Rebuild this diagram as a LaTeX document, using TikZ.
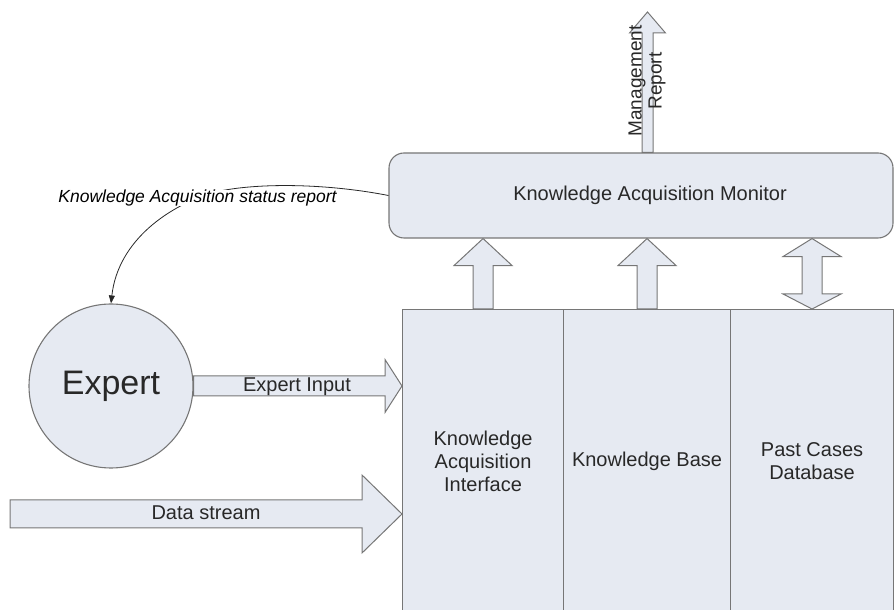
\documentclass[tikz,border=0pt]{standalone}
\usepackage{fontspec}
\setmainfont{Liberation Sans}
\usetikzlibrary{arrows.meta,calc}

\definecolor{boxfill}{RGB}{230,234,242}
\definecolor{boxline}{RGB}{118,118,118}
\definecolor{inkgray}{RGB}{40,40,40}

% hollow block arrows, built on named points
% right: from #1 to the x of #2; shaft half #3, head half #4, head length #5
\newcommand{\fatright}[5]{%
  \draw[fatarrow] let \p1=(#1), \p2=(#2) in
    (\x1,\y1+#3) -- (\x2-#5,\y1+#3) -- (\x2-#5,\y1+#4) -- (\x2,\y1)
    -- (\x2-#5,\y1-#4) -- (\x2-#5,\y1-#3) -- (\x1,\y1-#3) -- cycle;}
% up: from #1 to the y of #2
\newcommand{\fatup}[5]{%
  \draw[fatarrow] let \p1=(#1), \p2=(#2) in
    (\x1-#3,\y1) -- (\x1-#3,\y2-#5) -- (\x1-#4,\y2-#5) -- (\x1,\y2)
    -- (\x1+#4,\y2-#5) -- (\x1+#3,\y2-#5) -- (\x1+#3,\y1) -- cycle;}
% both ways: top head length #5, bottom head length #6
\newcommand{\fatboth}[6]{%
  \draw[fatarrow] let \p1=(#1), \p2=(#2) in
    (\x1,\y1) -- (\x1-#4,\y1+#6) -- (\x1-#3,\y1+#6) -- (\x1-#3,\y2-#5)
    -- (\x1-#4,\y2-#5) -- (\x1,\y2) -- (\x1+#4,\y2-#5) -- (\x1+#3,\y2-#5)
    -- (\x1+#3,\y1+#6) -- (\x1+#4,\y1+#6) -- cycle;}

\tikzset{
  block/.style={draw=boxline, fill=boxfill, line width=1.1pt, inner sep=0pt},
  fatarrow/.style={draw=boxline, fill=boxfill, line width=1pt, line join=miter},
  lbl/.style={font=\fontsize{20}{23}\selectfont, text=inkgray, align=center},
  column/.style={block, lbl, anchor=north west, minimum height=303pt},
  statusline/.style={draw=inkgray, line width=0.8pt, -{Triangle[length=8pt,width=6pt]}},
}

\begin{document}
\begin{tikzpicture}[x=1pt, y=1pt]
  \useasboundingbox (0,0) rectangle (894,610);

  % monitor on top
  \node[block, rounded corners=15pt, minimum width=504pt, minimum height=85pt] (monitor) at (641,414.5) {};
  \node[lbl] (monitorlbl) at (650,415) {Knowledge Acquisition Monitor};

  % the three columns
  \node[column, minimum width=161pt] (kai) at (402,301) {Knowledge\\Acquisition\\Interface};
  \node[column, minimum width=167pt] (kb) at (563,301) {Knowledge Base};
  \node[column, minimum width=163pt] (pcd) at (730,301) {Past Cases\\Database};

  % expert
  \node[block, circle, minimum size=164pt, font=\fontsize{34}{40}\selectfont, text=inkgray] (expert) at (111,224) {Expert};
  \coordinate (datasrc) at (10,96);
  \coordinate (mgmttip) at (647.5,598);

  % block arrows
  \fatup{mgmttip |- monitor.north}{mgmttip}{5.5}{18}{21}
  \node[lbl, font=\fontsize{19}{20}\selectfont, rotate=90] (mgmtlbl) at (647,529) {Management\\Report};
  \fatup{kai.north}{kai.north |- monitor.south}{10}{29}{27}
  \fatup{kb.north}{kb.north |- monitor.south}{10}{29}{27}
  \fatboth{pcd.north}{pcd.north |- monitor.south}{10}{29}{18}{15}
  \fatright{expert.east}{kai.west}{10}{26.5}{17}
  \node[lbl] (inputlbl) at (297,223) {Expert Input};
  \fatright{datasrc}{kai.west}{14}{39}{40}
  \node[lbl] (datalbl) at (206,97) {Data stream};

  % status report back to the expert
  \draw[statusline] (monitor.west) .. controls (330,426) and (260,428) .. (215,418)
    .. controls (170,405) and (118,370) .. (expert.north);
  \node[font=\itshape\fontsize{17.5}{20}\selectfont, fill=white, inner sep=0pt, text=black] (statuslbl) at (197.5,412) {Knowledge Acquisition status report};
\end{tikzpicture}
\end{document}
